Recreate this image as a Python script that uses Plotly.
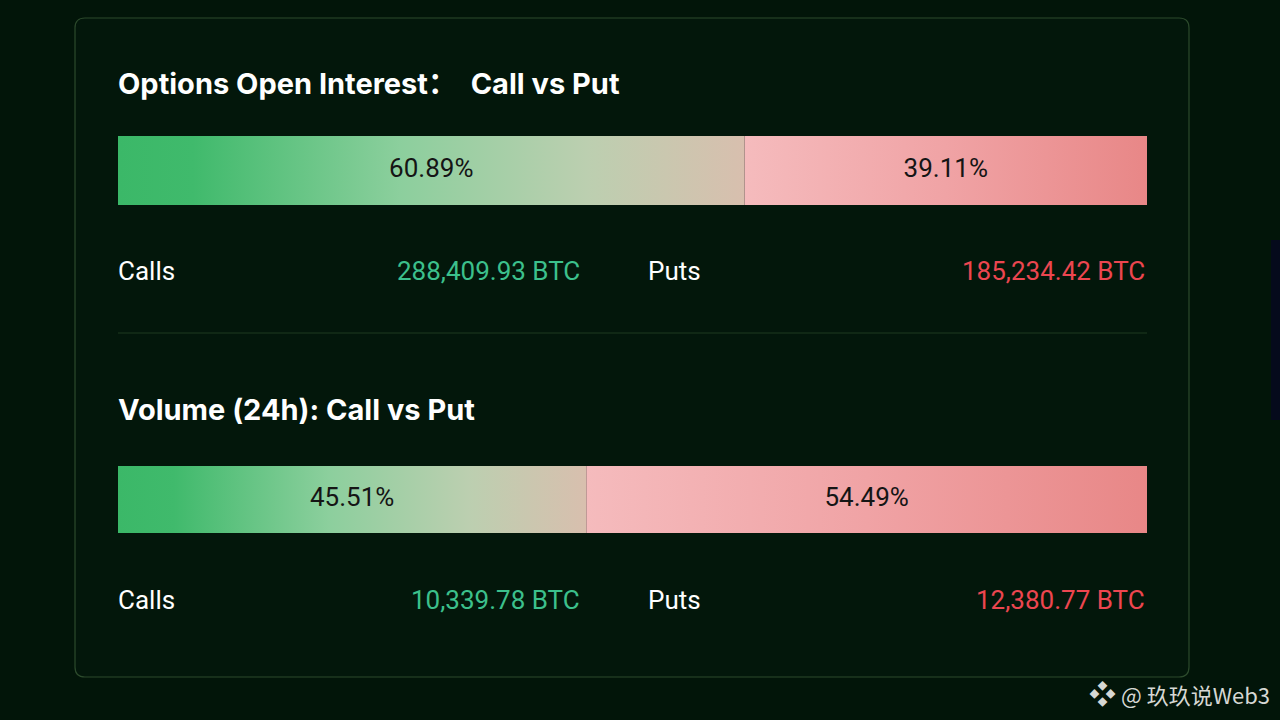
import plotly.graph_objects as go

# values
panels = ["Options Open Interest：  Call vs Put", "Volume (24h): Call vs Put"]
call_pct = [60.89, 45.51]
put_pct = [39.11, 54.49]
call_btc = ["288,409.93 BTC", "10,339.78 BTC"]
put_btc = ["185,234.42 BTC", "12,380.77 BTC"]

W, H = 1280, 720
BG = "#021509"
GREEN_SCALE = [[0, "#3bb868"], [0.12, "#40ba6c"], [0.45, "#8ccf9d"],
               [0.75, "#bccfb0"], [1, "#d8bfae"]]
RED_SCALE = [[0, "#f5bbbd"], [0.5, "#f0a3a5"], [1, "#e88787"]]


def px(x):
    return x / W


def py(y):
    return 1 - y / H


# pixel layout of each panel: title y, bar top/bottom, value row y
rows = [dict(title=83, top=136, bot=205, vals=271),
        dict(title=409, top=466, bot=533, vals=600)]
bar_left, bar_right = 118, 1147

fig = go.Figure()
annotations = []
for i, r in enumerate(rows):
    xa = "x" if i == 0 else "x2"
    ya = "y" if i == 0 else "y2"
    split = call_pct[i]
    total = call_pct[i] + put_pct[i]
    fig.add_trace(go.Scatter(
        x=[0, split, split, 0, 0], y=[0, 0, 1, 1, 0],
        fill="toself", mode="lines", line=dict(width=0),
        fillgradient=dict(type="horizontal", colorscale=GREEN_SCALE),
        hoverinfo="skip", showlegend=False, xaxis=xa, yaxis=ya))
    fig.add_trace(go.Scatter(
        x=[split, total, total, split, split], y=[0, 0, 1, 1, 0],
        fill="toself", mode="lines", line=dict(width=0),
        fillgradient=dict(type="horizontal", colorscale=RED_SCALE),
        hoverinfo="skip", showlegend=False, xaxis=xa, yaxis=ya))
    fig.add_trace(go.Scatter(
        x=[split / 2, split + put_pct[i] / 2], y=[0.5, 0.5],
        mode="text", text=[f"{call_pct[i]:.2f}%", f"{put_pct[i]:.2f}%"],
        textfont=dict(family="Roboto", size=26, color="#151515"),
        hoverinfo="skip", showlegend=False, xaxis=xa, yaxis=ya))

    annotations.append(dict(x=px(bar_left - 2), y=py(r["title"]), text=f"<b>{panels[i]}</b>",
                            xanchor="left",
                            font=dict(family="Inter, Noto Sans CJK SC", size=29, color="#ffffff")))
    val_font = dict(family="Roboto", size=26)
    annotations += [
        dict(x=px(bar_left - 2), y=py(r["vals"]), text="Calls", xanchor="left",
             font=dict(val_font, color="#ffffff")),
        dict(x=px(582), y=py(r["vals"]), text=call_btc[i], xanchor="right",
             font=dict(val_font, color="#3cc08c")),
        dict(x=px(646), y=py(r["vals"]), text="Puts", xanchor="left",
             font=dict(val_font, color="#ffffff")),
        dict(x=px(1147), y=py(r["vals"]), text=put_btc[i], xanchor="right",
             font=dict(val_font, color="#ec4650")),
    ]

for a in annotations:
    a["yanchor"] = "middle"
    a["showarrow"] = False
    a["xref"] = "paper"
    a["yref"] = "paper"

annotations.append(dict(x=px(1272), y=py(692), xref="paper", yref="paper",
                        text="<span style='font-size:27px'>❖</span> @ 玖玖说Web3",
                        xanchor="right", yanchor="middle", showarrow=False,
                        font=dict(family="Noto Sans CJK SC", size=22, color="#d6d8d4")))

# rounded card outline
x0, x1, y0, y1 = px(75), px(1189), py(677), py(18)
rx, ry = 10 / W, 10 / H
card = (f"M {x0+rx},{y0} L {x1-rx},{y0} Q {x1},{y0} {x1},{y0+ry} "
        f"L {x1},{y1-ry} Q {x1},{y1} {x1-rx},{y1} L {x0+rx},{y1} "
        f"Q {x0},{y1} {x0},{y1-ry} L {x0},{y0+ry} Q {x0},{y0} {x0+rx},{y0} Z")

shapes = [
    dict(type="path", path=card, xref="paper", yref="paper",
         line=dict(color="#2c4a2c", width=1.2), fillcolor="#03170b", layer="below"),
    dict(type="line", xref="paper", yref="paper", x0=px(118), x1=px(1147),
         y0=py(333), y1=py(333), line=dict(color="#1f3b20", width=1)),
    dict(type="rect", xref="paper", yref="paper", x0=px(1271), x1=px(1280),
         y0=py(420), y1=py(240), line=dict(width=0), fillcolor="#050a1c", layer="below"),
]

axis_common = dict(showgrid=False, zeroline=False, showticklabels=False,
                   fixedrange=True, showline=False)
fig.update_layout(
    width=W, height=H, margin=dict(l=0, r=0, t=0, b=0),
    paper_bgcolor=BG, plot_bgcolor="rgba(0,0,0,0)",
    xaxis=dict(axis_common, domain=[px(bar_left), px(bar_right)], range=[0, 100]),
    yaxis=dict(axis_common, domain=[py(rows[0]["bot"]), py(rows[0]["top"])], range=[0, 1]),
    xaxis2=dict(axis_common, domain=[px(bar_left), px(bar_right)], range=[0, 100], anchor="y2"),
    yaxis2=dict(axis_common, domain=[py(rows[1]["bot"]), py(rows[1]["top"])], range=[0, 1],
                anchor="x2"),
    annotations=annotations, shapes=shapes,
)

# drop the page's default body margin so the 1280x720 figure fills the window
fig.write_html("out.html", config={"displayModeBar": False},
               post_script="document.body.style.margin='0';"
               "document.body.style.background='" + BG + "';")
